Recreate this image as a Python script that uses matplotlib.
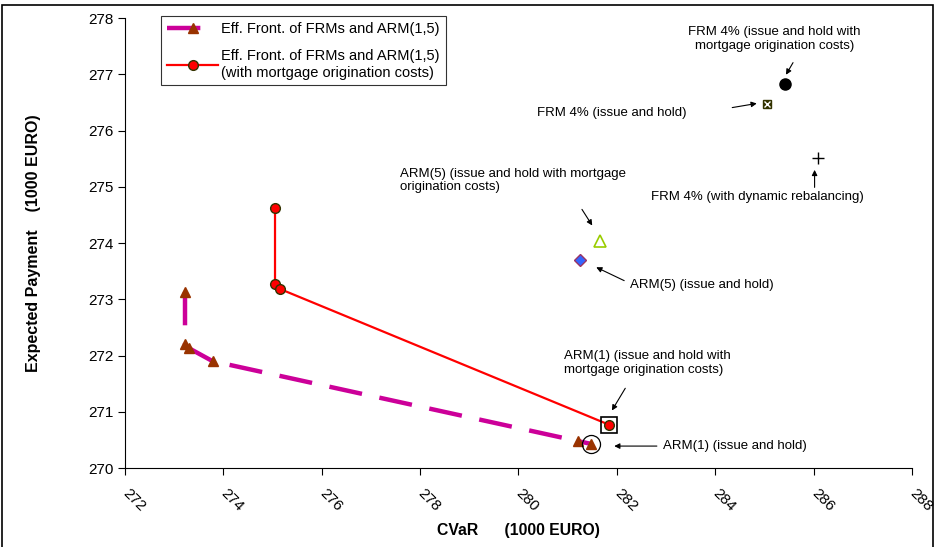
import matplotlib.pyplot as plt
from matplotlib.patches import Rectangle

plt.rcParams["font.family"] = ["Liberation Sans", "DejaVu Sans"]

# Efficient frontier (no origination costs)
front_cvar = [273.22, 273.22, 273.3, 273.78, 281.2, 281.47]
front_pay = [273.13, 272.2, 272.13, 271.9, 270.48, 270.43]

# Efficient frontier (with mortgage origination costs)
front_cost_cvar = [275.05, 275.05, 275.16, 281.84]
front_cost_pay = [274.62, 273.28, 273.18, 270.77]

# single strategies (CVaR, expected payment)
arm1_hold = (281.47, 270.43)
arm1_cost = (281.84, 270.77)
arm5_hold = (281.26, 273.7)
arm5_cost = (281.65, 274.03)
frm_hold = (285.05, 276.48)
frm_cost = (285.41, 276.82)
frm_dyn = (286.08, 275.52)

x_ticks = list(range(272, 289, 2))
y_ticks = list(range(270, 279))

fig = plt.figure(figsize=(9.37, 5.47), dpi=100)
ax = fig.add_axes([0.1334, 0.1444, 0.8399, 0.8226])

ax.plot(front_cvar, front_pay, color="#CC0099", lw=3.2, dashes=(7.5, 4),
        marker="^", ms=7, mfc="#993300", mec="#993300",
        label="Eff. Front. of FRMs and ARM(1,5)", zorder=3)
ax.plot(front_cost_cvar, front_cost_pay, color="#FF0000", lw=1.6,
        marker="o", ms=7, mfc="#FF0000", mec="#333300", mew=1,
        label="Eff. Front. of FRMs and ARM(1,5)\n(with mortgage origination costs)",
        zorder=3)

ax.plot(*arm1_hold, marker="o", ms=13, mfc="none", mec="black", mew=0.9, zorder=4)
ax.plot(*arm1_cost, marker="s", ms=11, mfc="none", mec="black", mew=1.2, zorder=4)
ax.plot(*arm5_hold, marker="D", ms=6, mfc="#3366FF", mec="#993366", mew=1, zorder=4)
ax.plot(*arm5_cost, marker="^", ms=8, mfc="white", mec="#99CC00", mew=1.2, zorder=4)
ax.plot(*frm_hold, marker="s", ms=6, mfc="#333300", mec="#333300", zorder=4)
ax.plot(*frm_hold, marker="x", ms=4, mec="white", mew=1, zorder=5)
ax.plot(*frm_cost, marker="o", ms=8, mfc="black", mec="black", zorder=4)
ax.plot(*frm_dyn, marker="+", ms=9, mec="black", mew=1, zorder=4)

arrow = dict(arrowstyle="-|>", color="black", lw=0.8, mutation_scale=8)
fs = 9.5
ls = 1.2
ax.annotate("", xy=(285.41, 276.95), xytext=(285.61, 277.25), arrowprops=arrow)
ax.text(285.2, 277.86, "FRM 4% (issue and hold with\nmortgage origination costs)",
        ha="center", va="top", fontsize=fs, linespacing=ls)
ax.annotate("", xy=(284.9, 276.49), xytext=(284.29, 276.4), arrowprops=arrow)
ax.text(280.37, 276.31, "FRM 4% (issue and hold)", ha="left", va="center", fontsize=fs)
ax.annotate("", xy=(286.02, 275.35), xytext=(286.02, 274.94), arrowprops=arrow)
ax.text(282.7, 274.82, "FRM 4% (with dynamic rebalancing)", ha="left", va="center",
        fontsize=fs)
ax.annotate("", xy=(281.53, 274.27), xytext=(281.26, 274.64), arrowprops=arrow)
ax.text(277.59, 275.34, "ARM(5) (issue and hold with mortgage\norigination costs)",
        ha="left", va="top", fontsize=fs, linespacing=ls)
ax.annotate("", xy=(281.53, 273.59), xytext=(282.2, 273.31), arrowprops=arrow)
ax.text(282.26, 273.25, "ARM(5) (issue and hold)", ha="left", va="center", fontsize=fs)
ax.annotate("", xy=(281.87, 270.98), xytext=(282.2, 271.46), arrowprops=arrow)
ax.text(280.92, 272.1, "ARM(1) (issue and hold with\nmortgage origination costs)",
        ha="left", va="top", fontsize=fs, linespacing=ls)
ax.annotate("", xy=(281.89, 270.39), xytext=(282.87, 270.39), arrowprops=arrow)
ax.text(282.93, 270.39, "ARM(1) (issue and hold)", ha="left", va="center", fontsize=fs)

ax.set_xlim(272, 288)
ax.set_ylim(270, 278)
ax.set_xticks(x_ticks)
ax.set_yticks(y_ticks)
ax.set_xticklabels([str(t) for t in x_ticks], rotation=-45, ha="left", va="center",
                   rotation_mode="anchor", fontsize=11)
ax.tick_params(axis="x", pad=12, length=5, direction="out")
ax.tick_params(axis="y", labelsize=11, length=5, direction="out")
ax.spines["top"].set_visible(False)
ax.spines["right"].set_visible(False)

ax.set_xlabel("CVaR      (1000 EURO)", fontsize=11.3, fontweight="bold", labelpad=6)
ax.set_ylabel("Expected Payment    (1000 EURO)", fontsize=11.5, fontweight="bold",
              labelpad=34)

leg = ax.legend(loc="upper left", bbox_to_anchor=(0.037, 1.02), fontsize=10.5,
                frameon=True, fancybox=False, edgecolor="black", handlelength=3.5,
                borderpad=0.4, labelspacing=0.9, handletextpad=0.2)
leg.get_frame().set_linewidth(0.8)

fig.patches.append(Rectangle((0.002, -0.01), 0.994, 1.0, transform=fig.transFigure,
                             fill=False, edgecolor="black", lw=1.2))

fig.savefig("out.png", dpi=100)
